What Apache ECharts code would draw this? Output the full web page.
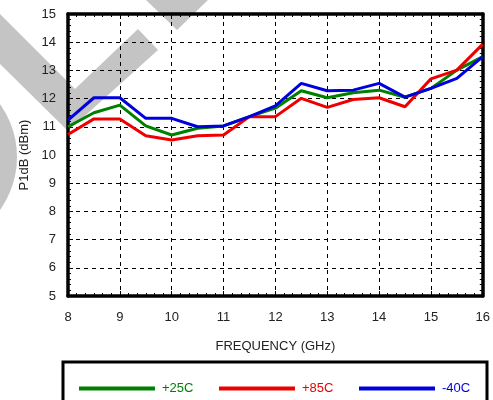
<!DOCTYPE html>
<html>
<head>
<meta charset="utf-8">
<script src="https://cdn.jsdelivr.net/npm/echarts@6/dist/echarts.min.js"></script>
<style>html,body{margin:0;padding:0;background:#fff}#c{width:493px;height:400px}</style>
</head>
<body>
<div id="c"></div>
<script>
var freq = [8, 8.5, 9, 9.5, 10, 10.5, 11, 11.5, 12, 12.5, 13, 13.5, 14, 14.5, 15, 15.5, 16];
var p25 = [11.00, 11.50, 11.77, 11.03, 10.71, 10.95, 11.03, 11.36, 11.66, 12.28, 12.03, 12.21, 12.30, 12.05, 12.36, 13.01, 13.49];
var p85 = [10.73, 11.28, 11.28, 10.68, 10.53, 10.68, 10.71, 11.36, 11.36, 12.01, 11.69, 11.97, 12.03, 11.71, 12.70, 13.01, 13.93];
var m40 = [11.24, 12.03, 12.03, 11.30, 11.30, 11.00, 11.03, 11.36, 11.74, 12.54, 12.28, 12.30, 12.54, 12.05, 12.36, 12.72, 13.49];
var names = ['+25C', '+85C', '-40C'];
var colors = ['#008000', '#ee0000', '#0000dd'];
var xTitle = 'FREQUENCY (GHz)';
var yTitle = 'P1dB (dBm)';

function pairs(ys) { return freq.map(function (f, i) { return [f, ys[i]]; }); }

var font = 'Liberation Sans, Arial, Helvetica, sans-serif';
var chart = echarts.init(document.getElementById('c'), null, { renderer: 'canvas' });

var gridLine = { show: true, lineStyle: { color: '#000', width: 1, type: [4, 4] } };
function mkX(pos, labels) {
  return {
    type: 'value', min: 8, max: 16, interval: 1, position: pos, gridIndex: 0,
    name: labels ? xTitle : '', nameLocation: 'middle', nameGap: 44,
    nameTextStyle: { fontFamily: font, fontSize: 13, color: '#222' },
    axisLine: { show: true, onZero: false, lineStyle: { color: '#000', width: 3.5 } },
    axisTick: { show: true, inside: true, length: 5, lineStyle: { color: '#000' } },
    minorTick: { show: true, splitNumber: 6, length: 3, lineStyle: { color: '#000' } },
    axisLabel: { show: labels, margin: 15, fontFamily: font, fontSize: 13, color: '#222' },
    splitLine: labels ? gridLine : { show: false }
  };
}
function mkY(pos, labels) {
  return {
    type: 'value', min: 5, max: 15, interval: 1, position: pos, gridIndex: 0,
    name: labels ? yTitle : '', nameLocation: 'middle', nameGap: 36,
    nameTextStyle: { fontFamily: font, fontSize: 13, color: '#222' },
    axisLine: { show: true, onZero: false, lineStyle: { color: '#000', width: 3.5 } },
    axisTick: { show: true, inside: true, length: 5, lineStyle: { color: '#000' } },
    minorTick: { show: true, splitNumber: 5, length: 3, lineStyle: { color: '#000' } },
    axisLabel: { show: labels, margin: 12, fontFamily: font, fontSize: 13, color: '#222' },
    splitLine: labels ? gridLine : { show: false }
  };
}

var legendLefts = [74, 214, 354];
var legends = names.map(function (n, i) {
  return {
    data: [n], left: legendLefts[i], top: 377, orient: 'horizontal',
    itemWidth: 76, itemHeight: 4, icon: 'rect', itemGap: 0,
    textStyle: { color: colors[i], fontFamily: font, fontSize: 13, padding: [0, 0, 0, 2] },
    selectedMode: false
  };
});

var series = [p25, p85, m40].map(function (d, i) {
  return {
    name: names[i], type: 'line', xAxisIndex: 0, yAxisIndex: 0,
    data: pairs(d), showSymbol: false, symbol: 'none',
    lineStyle: { color: colors[i], width: 3 }, itemStyle: { color: colors[i] },
    z: 3 + i
  };
});

chart.setOption({
  animation: false,
  backgroundColor: '#fff',
  grid: { left: 68, right: 8, top: 14, bottom: 104, containLabel: false },
  xAxis: [mkX('bottom', true), mkX('top', false)],
  yAxis: [mkY('left', true), mkY('right', false)],
  legend: legends,
  graphic: [
    { type: 'polygon', z: -10, silent: true,
      shape: { points: [[0, 14], [75, 89], [138, 29], [158, 50], [68, 131], [0, 64]] },
      style: { fill: '#c4c4c4' } },
    { type: 'polygon', z: -10, silent: true,
      shape: { points: [[146, 0], [208, 0], [177, 30]] },
      style: { fill: '#c4c4c4' } },
    { type: 'sector', z: -10, silent: true,
      shape: { cx: -74, cy: 157, r: 91, r0: 0, startAngle: -Math.PI / 2, endAngle: Math.PI / 2 },
      style: { fill: '#c4c4c4' } },
    { type: 'rect', z: 10, silent: true,
      shape: { x: 63, y: 362, width: 424, height: 60 },
      style: { fill: 'none', stroke: '#000', lineWidth: 3 } }
  ],
  series: series
});
</script>
</body>
</html>
